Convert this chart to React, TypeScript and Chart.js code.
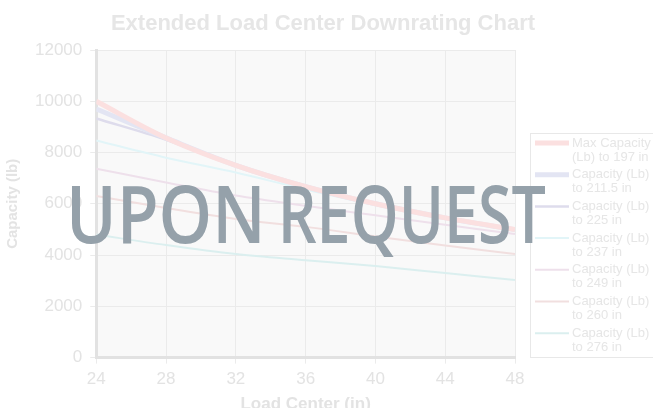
import React, { useEffect, useRef } from "react";
import { Chart, registerables } from "chart.js";

Chart.register(...registerables);

const loadCenters = [24, 28, 32, 36, 40, 44, 48];
const max197 = [10000, 8570, 7500, 6670, 6000, 5450, 5000];
const cap211 = [9700, 8570, 7500, 6670, 6000, 5450, 4990];
const cap225 = [9330, 8500, 7480, 6650, 6000, 5450, 4990];
const cap237 = [8470, 7800, 7220, 6560, 5950, 5420, 4950];
const cap249 = [7370, 6830, 6320, 5920, 5550, 5180, 4820];
const cap260 = [6300, 5840, 5410, 5100, 4730, 4370, 4040];
const cap276 = [4800, 4390, 4040, 3800, 3570, 3300, 3030];

const seriesLabels = [
  ["Max Capacity", "(Lb) to 197 in"],
  ["Capacity (Lb)", "to 211.5 in"],
  ["Capacity (Lb)", "to 225 in"],
  ["Capacity (Lb)", "to 237 in"],
  ["Capacity (Lb)", "to 249 in"],
  ["Capacity (Lb)", "to 260 in"],
  ["Capacity (Lb)", "to 276 in"],
];
const seriesValues = [max197, cap211, cap225, cap237, cap249, cap260, cap276];
const seriesColors = ["#fbe0e0", "#e3e5f3", "#dedcec", "#e2f5f8", "#eee0eb", "#f1dfdf", "#dbefef"];
const seriesWidths = [5, 5, 2.5, 2, 2, 2, 2];

const yTicks = [0, 2000, 4000, 6000, 8000, 10000, 12000];
const chartTitle = "Extended Load Center Downrating Chart";
const xTitle = "Load Center (in)";
const yTitle = "Capacity (lb)";
const overlayText = "UPON REQUEST";

const FONT = "'Liberation Sans', Arial, sans-serif";
const TEXT_COLOR = "#e3e3e3";

const bgPlugin = {
  id: "plotBg",
  beforeDraw(chart: any) {
    const { ctx, chartArea } = chart;
    ctx.save();
    ctx.fillStyle = "#f9f9f9";
    ctx.fillRect(chartArea.left, chartArea.top, chartArea.right - chartArea.left, chartArea.bottom - chartArea.top);
    ctx.restore();
  },
};

const textPlugin = {
  id: "texts",
  afterDraw(chart: any) {
    const { ctx, chartArea } = chart;
    ctx.save();
    ctx.fillStyle = "#e6e6e6";
    ctx.textAlign = "center";
    ctx.textBaseline = "middle";
    ctx.font = "bold 22px " + FONT;
    ctx.fillText(chartTitle, 323, 24);
    ctx.fillStyle = TEXT_COLOR;
    ctx.font = "bold 17px " + FONT;
    ctx.fillText(xTitle, (chartArea.left + chartArea.right) / 2, 404);
    ctx.save();
    ctx.translate(13, (chartArea.top + chartArea.bottom) / 2);
    ctx.rotate(-Math.PI / 2);
    ctx.font = "bold 15px " + FONT;
    ctx.fillText(yTitle, 0, 0);
    ctx.restore();
    ctx.restore();
  },
};

const legendPlugin = {
  id: "boxLegend",
  afterDraw(chart: any) {
    const ctx = chart.ctx;
    ctx.save();
    ctx.strokeStyle = "#e8e8e8";
    ctx.lineWidth = 1;
    ctx.strokeRect(530.5, 133.5, 140, 224);
    ctx.font = "13px " + FONT;
    ctx.textBaseline = "middle";
    ctx.fillStyle = "#e6e6e6";
    chart.data.datasets.forEach((ds: any, i: number) => {
      const y = 143 + i * 31.7;
      ctx.strokeStyle = ds.borderColor;
      ctx.lineWidth = ds.borderWidth;
      ctx.beginPath();
      ctx.moveTo(535, y);
      ctx.lineTo(569, y);
      ctx.stroke();
      const lines = seriesLabels[i];
      ctx.fillText(lines[0], 572, y);
      ctx.fillText(lines[1], 572, y + 14);
    });
    ctx.restore();
  },
};

const overlayPlugin = {
  id: "overlay",
  afterDraw(chart: any) {
    const ctx = chart.ctx;
    const words = overlayText.split(" ");
    const boxes = [
      [72, 260],
      [283, 545],
    ];
    ctx.save();
    ctx.font = "600 80px 'Open Sans', sans-serif";
    ctx.fillStyle = "#95a1aa";
    ctx.textBaseline = "alphabetic";
    words.forEach((word, i) => {
      const [x0, x1] = boxes[i];
      const m = ctx.measureText(word);
      const w = m.actualBoundingBoxRight + m.actualBoundingBoxLeft;
      ctx.save();
      ctx.translate(x0, 243);
      ctx.scale((x1 - x0) / w, 1);
      ctx.fillText(word, m.actualBoundingBoxLeft, 0);
      ctx.restore();
    });
    ctx.restore();
  },
};

export default function App() {
  const ref = useRef<HTMLCanvasElement>(null);
  useEffect(() => {
    document.body.style.margin = "0";
    const chart = new Chart(ref.current!, {
      type: "line",
      data: {
        datasets: seriesValues.map((vals, i) => ({
          label: seriesLabels[i].join(" "),
          data: vals.map((v, j) => ({ x: loadCenters[j], y: v })),
          borderColor: seriesColors[i],
          backgroundColor: seriesColors[i],
          borderWidth: seriesWidths[i],
          pointRadius: 0,
          cubicInterpolationMode: "monotone" as const,
          fill: false,
        })),
      },
      options: {
        animation: false,
        responsive: false,
        layout: { padding: { left: 27, right: 138, top: 50, bottom: 12 } },
        plugins: {
          legend: { display: false },
          tooltip: { enabled: false },
          title: { display: false },
        },
        scales: {
          x: {
            type: "linear",
            min: 24,
            max: 48,
            ticks: { stepSize: 4, color: TEXT_COLOR, font: { family: FONT, size: 17 }, padding: 6 },
            grid: { color: "#ebebeb", tickLength: 6, drawTicks: true },
            border: { color: "#e2e2e2", width: 3 },
          },
          y: {
            min: 0,
            max: 12000,
            afterBuildTicks: (axis: any) => {
              axis.ticks = yTicks.map((v) => ({ value: v }));
            },
            ticks: { color: TEXT_COLOR, font: { family: FONT, size: 17 }, padding: 8, callback: (v: any) => String(v) },
            grid: { color: "#ebebeb", tickLength: 6 },
            border: { color: "#e2e2e2", width: 3 },
          },
        },
      },
      plugins: [bgPlugin, textPlugin, legendPlugin, overlayPlugin],
    });
    return () => chart.destroy();
  }, []);
  return (
    <div style={{ position: "absolute", left: 0, top: 0, width: 653, height: 408 }}>
      <canvas ref={ref} width={653} height={408} style={{ display: "block" }} />
    </div>
  );
}
